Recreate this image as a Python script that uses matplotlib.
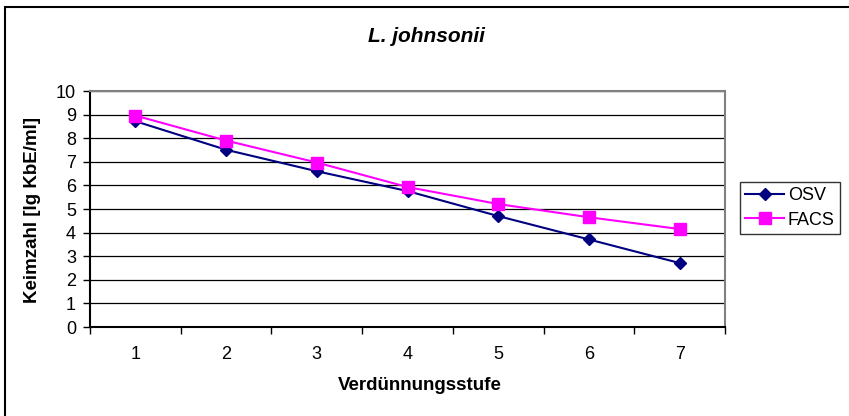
import matplotlib
matplotlib.use('Agg')
import matplotlib.pyplot as plt
from matplotlib.patches import Rectangle

plt.rcParams['font.family'] = ['Liberation Sans', 'DejaVu Sans']

# data
stufen = [1, 2, 3, 4, 5, 6, 7]
osv = [8.72, 7.51, 6.60, 5.76, 4.70, 3.71, 2.71]
facs = [8.96, 7.90, 6.97, 5.93, 5.21, 4.65, 4.15]

fig = plt.figure(figsize=(8.49, 4.16), dpi=100)
ax = fig.add_axes([90 / 849, 1 - 327 / 416, 635 / 849, 236 / 416])

# outer chart border (right and bottom edges are cut off in the original)
fig.patches.append(Rectangle((5 / 849, -0.05), 1.2, 1 - 7 / 416 + 0.05,
                             transform=fig.transFigure, fill=False,
                             edgecolor='black', linewidth=1.5))

ax.plot(stufen, osv, color='#000080', marker='D', markersize=6.5,
        linewidth=1.5, label='OSV')
ax.plot(stufen, facs, color='#FF00FF', marker='s', markersize=8,
        linewidth=1.5, label='FACS')

ax.set_xlim(0.5, 7.5)
ax.set_ylim(0, 10)
ax.set_yticks(range(0, 11))
ax.set_xticks(stufen)
ax.set_xticks([x + 0.5 for x in range(0, 8)], minor=True)
ax.tick_params(axis='x', which='major', length=0, pad=14, labelsize=13)
ax.tick_params(axis='x', which='minor', length=5, direction='out', width=1)
ax.tick_params(axis='y', length=5, direction='out', width=1, pad=5, labelsize=13)
ax.grid(axis='y', color='black', linewidth=0.9)
ax.set_axisbelow(True)

ax.spines['left'].set_color('black')
ax.spines['bottom'].set_color('black')
ax.spines['top'].set_color('#808080')
ax.spines['right'].set_color('#808080')
for s in ax.spines.values():
    s.set_linewidth(1.5)

fig.text(426 / 849, 1 - 36 / 416, 'L. johnsonii', ha='center', va='center',
         fontsize=15, fontweight='bold', fontstyle='italic')
fig.text(420 / 849, 1 - 386 / 416, 'Verdünnungsstufe', ha='center', va='center',
         fontsize=13.5, fontweight='bold')
fig.text(33 / 849, 1 - 210 / 416, 'Keimzahl [lg KbE/ml]', ha='center', va='center',
         rotation=90, fontsize=13.5, fontweight='bold')

leg = ax.legend(loc='upper left', bbox_to_anchor=(740 / 849, 1 - 182 / 416),
                bbox_transform=fig.transFigure, fontsize=13, frameon=True,
                fancybox=False, edgecolor='black', borderpad=0.3,
                handlelength=2.15, handletextpad=0.2, labelspacing=0.4,
                borderaxespad=0)
leg.get_frame().set_linewidth(1)

fig.savefig('out.png', dpi=100)
